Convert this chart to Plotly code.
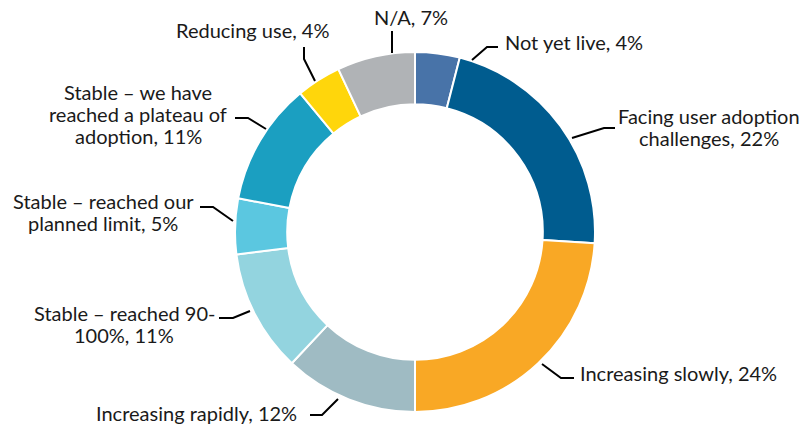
import plotly.graph_objects as go

# data, clockwise from 12 o'clock
categories = [
    "Not yet live",
    "Facing user adoption challenges",
    "Increasing slowly",
    "Increasing rapidly",
    "Stable – reached 90-100%",
    "Stable – reached our planned limit",
    "Stable – we have reached a plateau of adoption",
    "Reducing use",
    "N/A",
]
shares = [4, 22, 24, 12, 11, 5, 11, 4, 7]
label_lines = [
    ["Not yet live, 4%"],
    ["Facing user adoption", "challenges, 22%"],
    ["Increasing slowly, 24%"],
    ["Increasing rapidly, 12%"],
    ["Stable – reached 90-", "100%, 11%"],
    ["Stable – reached our", "planned limit, 5%"],
    ["Stable – we have", "reached a plateau of", "adoption, 11%"],
    ["Reducing use, 4%"],
    ["N/A, 7%"],
]
colors = ["#4873A8", "#005C8F", "#F9A825", "#9FBBC3", "#93D4DF",
          "#5BC7E0", "#1B9FC1", "#FFD60B", "#B0B3B6"]

W, H = 802, 426
FONT = "Lato"
LINE_GAP = 22


def px(x, y):
    return x / W, 1 - y / H


# label placement (pixels): text anchor point, anchor side, leader path
label_pos = [
    dict(x=503, y=42, xa="left", path=[(472, 60), (487, 47), (498, 47)]),
    dict(x=709, y=127, xa="center", path=[(572, 138), (604, 128), (615, 128)]),
    dict(x=578, y=373, xa="left", path=[(542, 364), (561, 378), (574, 378)]),
    dict(x=299, y=413, xa="right", path=[(338, 399), (322, 415), (310, 415)]),
    dict(x=124, y=324, xa="center", path=[(250, 311), (233, 318), (219, 318)]),
    dict(x=103, y=212, xa="center", path=[(233, 221), (213, 207), (200, 207)]),
    dict(x=138, y=114, xa="center", path=[(266, 129), (248, 118), (235, 118)]),
    dict(x=252, y=30, xa="center", path=[(315, 81), (304, 59), (304, 47)]),
    dict(x=411, y=17, xa="center", path=[(392, 53), (392, 31)]),
]

cx, cy, R = 415, 232, 180
x0, y0 = px(cx - R, cy + R)
x1, y1 = px(cx + R, cy - R)

fig = go.Figure(go.Pie(
    labels=categories,
    values=shares,
    sort=False,
    direction="clockwise",
    rotation=0,
    hole=0.71,
    marker=dict(colors=colors, line=dict(color="white", width=2)),
    textinfo="none",
    hoverinfo="label+percent",
    domain=dict(x=[x0, x1], y=[y0, y1]),
    showlegend=False,
))

annotations = []
shapes = []
for lines, pos in zip(label_lines, label_pos):
    n = len(lines)
    for i, line in enumerate(lines):
        ax, ay = px(pos["x"], pos["y"] + (i - (n - 1) / 2) * LINE_GAP)
        annotations.append(dict(
            x=ax, y=ay, xref="paper", yref="paper",
            text=line, showarrow=False,
            xanchor=pos["xa"], yanchor="middle", align="center",
            font=dict(family=FONT, size=20, color="#1a1a1a"),
        ))
    pts = [px(a, b) for a, b in pos["path"]]
    d = "M " + " L ".join(f"{a:.5f},{b:.5f}" for a, b in pts)
    shapes.append(dict(type="path", path=d, xref="paper", yref="paper",
                       line=dict(color="black", width=2)))

fig.update_layout(
    width=W, height=H,
    margin=dict(l=0, r=0, t=0, b=0),
    paper_bgcolor="white",
    plot_bgcolor="white",
    annotations=annotations,
    shapes=shapes,
)

fig.write_html("out.html", config={"displayModeBar": False},
               post_script="document.body.style.margin='0';")
